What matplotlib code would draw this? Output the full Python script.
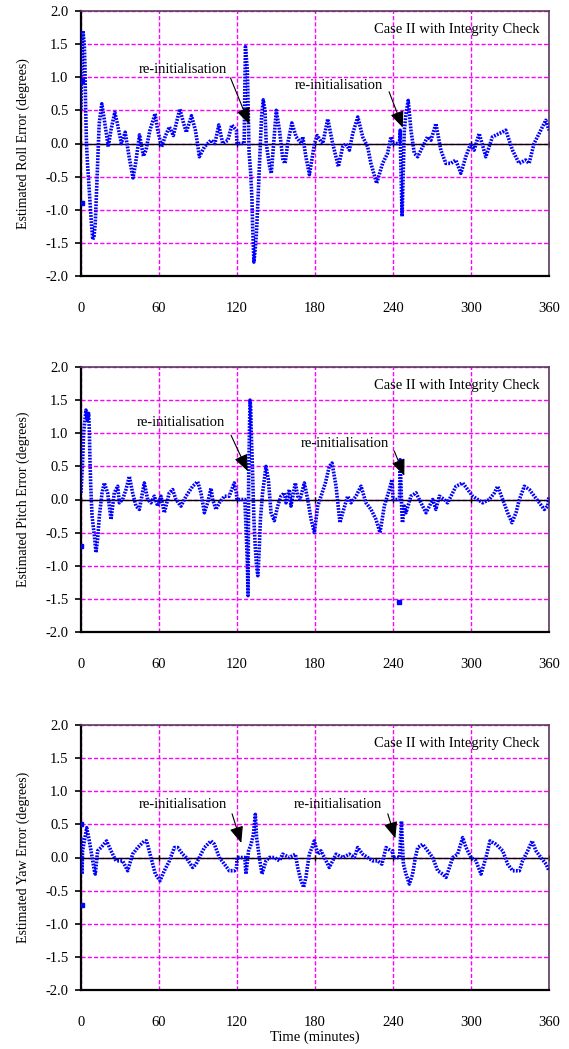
import matplotlib
matplotlib.use("Agg")
import matplotlib.pyplot as plt
from matplotlib.ticker import FixedLocator, FormatStrFormatter

plt.rcParams["font.family"] = ["Liberation Serif", "DejaVu Serif"]

# 时间轴刻度 (分钟) 与纵轴刻度 (度)
X_TICKS = [0, 60, 120, 180, 240, 300, 360]
Y_TICKS = [-2.0, -1.5, -1.0, -0.5, 0.0, 0.5, 1.0, 1.5, 2.0]

# 横滚误差
roll_t = [0, 0.5, 1.5, 2.5, 3.0, 3.5, 4.2, 5.0, 6.0, 7.0, 8.0, 9.0, 10.0, 11.0, 12.0,
          13.0, 14.0, 16.0, 18.0, 21.0, 23.0, 26.0, 28.0, 31.0, 34.0, 37.0, 40.0, 42.0,
          45.0, 48.0, 50.0, 53.0, 57.0, 59.0, 62.0, 65.0, 68.0, 71.0, 76.0, 79.0, 81.0,
          85.0, 88.0, 90.0, 91.0, 95.0, 100.0, 103.0, 106.0, 109.0, 113.0, 116.0, 119.5,
          120.0, 125.5, 126.0, 126.5, 127.5, 128.0, 128.5, 129.3, 130.5, 131.5, 132.0,
          132.5, 133.0, 134.0, 135.0, 136.4, 137.0, 138.9, 140.2, 141.5, 142.5, 145.0,
          146.4, 150.2, 152.7, 155.3, 157.0, 159.0, 162.2, 165.5, 169.4, 170.6, 173.0,
          175.7, 179.6, 181.7, 184.0, 186.0, 189.8, 193.6, 198.0, 201.3, 203.9, 206.5,
          209.0, 212.9, 216.7, 220.5, 223.0, 227.4, 232.0, 235.8, 238.4, 239.5, 240.0,
          245.0, 245.5, 246.0, 246.5, 247.0, 247.8, 248.7, 250.0, 251.7, 253.8, 256.4,
          259.0, 262.8, 266.6, 269.2, 273.0, 276.8, 280.6, 284.5, 288.3, 292.2, 296.0,
          299.8, 302.4, 306.3, 311.4, 316.5, 321.6, 326.8, 331.9, 337.0, 342.1, 344.7,
          348.5, 352.4, 357.5, 360.0]
roll_v = [0.5, 1.2, 1.7, 1.5, 1.2, 0.6, 0.0, -0.3, -0.6, -0.9, -1.2, -1.45, -1.4, -1.2, -0.7,
          -0.2, 0.3, 0.6, 0.35, -0.05, 0.2, 0.47, 0.3, 0.0, 0.17, -0.2, -0.52, -0.3,
          0.13, -0.19, -0.1, 0.2, 0.45, 0.2, -0.05, 0.12, 0.25, 0.12, 0.52, 0.3, 0.17,
          0.42, 0.2, -0.05, -0.2, -0.05, 0.05, 0.0, 0.28, 0.0, 0.05, 0.28, 0.2,
          0.0, 0.0, 0.8, 1.46, 1.23, 1.1, 0.6, -0.14, -0.44, -0.84, -1.24,
          -1.54, -1.79, -1.6, -1.34, -0.74, -0.44, 0.41, 0.66, 0.5, 0.0, -0.34,
          -0.45, 0.5, 0.2, -0.25, -0.3, 0.0, 0.31, 0.1, 0.0, 0.1, -0.2,
          -0.47, 0.0, 0.12, 0.05, 0.0, 0.37, 0.0, -0.35, -0.05, 0.0, -0.1,
          0.15, 0.4, 0.1, -0.05, -0.3, -0.6, -0.3, -0.15, 0.1, 0.05, 0.0,
          0.0, 0.2, -0.3, -0.7, -1.1, -0.5, 0.2, 0.45, 0.65, 0.2, -0.15,
          -0.2, -0.05, 0.1, 0.05, 0.3, -0.1, -0.3, -0.3, -0.25, -0.45, -0.2,
          0.0, -0.1, 0.15, -0.2, 0.1, 0.15, 0.2, -0.1, -0.3, -0.25, -0.3,
          0.0, 0.15, 0.35, 0.2]
roll_extra_t = [0.6, 0.8]
roll_extra_v = [-0.9, 0.95]

# 俯仰误差
pitch_t = [0, 1.3, 2.0, 3.8, 5.0, 5.9, 6.4, 6.9, 7.5, 8.5, 10.3, 11.5, 12.8, 14.1, 16.2,
           17.9, 20.5, 23.1, 25.6, 28.2, 29.5, 32.0, 34.6, 37.2, 39.7, 42.3, 44.9, 48.7,
           51.3, 53.8, 56.4, 59.0, 61.5, 64.1, 67.9, 70.5, 73.0, 76.9, 80.8, 85.9, 89.7,
           92.3, 94.9, 97.4, 100.0, 101.3, 103.8, 106.4, 110.3, 114.0, 117.9, 119.5,
           120.0, 126.0, 127.0, 128.0, 128.5, 129.0, 129.5, 130.0, 130.5, 131.0, 132.0,
           133.0, 134.0, 135.0, 136.0, 137.0, 138.0, 139.7, 142.3, 144.1, 146.2, 148.7,
           151.3, 153.8, 156.4, 157.7, 160.3, 161.5, 164.9, 166.7, 168.5, 171.8, 174.4,
           177.0, 179.5, 182.1, 184.6, 188.0, 191.0, 193.1, 196.2, 199.2, 201.3, 205.1,
           207.7, 211.5, 215.4, 219.2, 223.1, 226.9, 230.0, 233.3, 237.2, 239.2, 240.0,
           245.0, 245.5, 246.2, 246.8, 247.3, 248.7, 250.0, 253.8, 257.7, 261.5, 265.4,
           268.0, 270.5, 273.0, 275.6, 279.5, 282.0, 284.6, 288.5, 293.6, 297.4, 301.3,
           305.1, 309.0, 314.1, 318.0, 320.5, 324.4, 328.2, 331.5, 334.6, 337.2, 341.0,
           344.9, 348.7, 352.6, 356.4, 359.0, 360.0]
pitch_v = [0.1, 0.6, 1.0, 1.35, 1.2, 1.3, 1.05, 0.6, 0.2, -0.25, -0.55, -0.8, -0.6, -0.25, 0.1,
           0.25, 0.1, -0.3, 0.1, 0.2, -0.05, 0.0, 0.15, 0.35, 0.1, -0.1, -0.15, 0.25,
           0.0, -0.05, 0.05, -0.1, 0.05, -0.2, 0.1, 0.15, 0.0, -0.1, 0.05, 0.2, 0.27,
           0.1, -0.2, -0.05, 0.17, 0.0, -0.15, -0.05, 0.05, 0.05, 0.25, 0.1,
           0.0, 0.0, -0.45, -1.0, -1.45, 0.4, 1.0, 1.5, 1.4, 1.0, 0.4,
           -0.3, -0.7, -1.0, -1.15, -0.8, -0.3, 0.1, 0.5, 0.3, -0.2, -0.32,
           -0.1, 0.05, 0.1, -0.05, 0.15, -0.1, 0.25, 0.05, 0.0, 0.25, 0.0,
           -0.3, -0.5, -0.1, 0.05, 0.25, 0.5, 0.55, 0.2, -0.35, -0.2, 0.05,
           -0.05, 0.05, 0.2, -0.05, -0.15, -0.3, -0.5, -0.1, 0.15, 0.3, 0.0,
           0.0, 0.6, 0.2, -0.2, -0.35, -0.1, -0.2, 0.05, 0.1, -0.05, -0.2,
           -0.1, 0.0, -0.15, 0.05, 0.0, -0.05, 0.05, 0.2, 0.25, 0.15, 0.05,
           0.0, -0.05, 0.0, 0.1, 0.2, 0.0, -0.2, -0.35, -0.2, 0.0, 0.2,
           0.15, 0.05, -0.05, -0.15, -0.1, 0.05]
pitch_extra_t = [0.2, 244.6]
pitch_extra_v = [-0.7, -1.55]

# 偏航误差
yaw_t = [0, 0.8, 1.2, 2.6, 4.4, 6.4, 7.7, 10.3, 11.0, 12.8, 15.4, 19.7, 23.1, 26.9, 32.0,
         35.9, 39.7, 43.6, 48.7, 50.5, 53.8, 57.2, 60.8, 64.1, 68.0, 71.8, 74.4, 78.2,
         80.8, 85.9, 88.5, 91.0, 94.9, 100.0, 102.6, 106.4, 110.3, 114.1, 118.0, 119.7,
         120.0, 126.0, 126.9, 128.9, 130.8, 132.6, 134.1, 135.1, 137.2, 139.2, 142.3,
         144.9, 148.7, 152.6, 155.1, 160.3, 164.9, 166.7, 169.2, 171.3, 173.0, 175.6,
         177.7, 179.5, 182.1, 184.6, 187.2, 191.0, 193.6, 196.2, 201.3, 206.4, 210.3,
         212.8, 216.7, 220.5, 224.4, 228.2, 231.5, 234.6, 238.5, 239.7, 240.0, 245.0,
         246.5, 247.0, 247.5, 248.0, 250.0, 252.6, 255.1, 257.2, 259.0, 262.8, 266.7,
         270.5, 274.4, 278.2, 280.8, 283.4, 286.0, 289.7, 293.6, 296.2, 300.0, 303.8,
         307.7, 311.5, 314.6, 319.2, 324.4, 328.2, 332.1, 337.2, 339.7, 343.6, 347.0,
         350.0, 353.8, 357.7, 360.0]
yaw_v = [0.3, -0.25, 0.1, 0.25, 0.45, 0.25, 0.1, -0.2, -0.25, 0.1, 0.15, 0.25, 0.1, -0.05, -0.05,
         -0.2, 0.05, 0.15, 0.25, 0.25, 0.0, -0.25, -0.35, -0.2, -0.05, 0.15, 0.15, 0.05,
         0.0, -0.15, -0.1, 0.0, 0.15, 0.25, 0.2, 0.0, -0.1, -0.2, -0.2, -0.15,
         0.0, 0.0, -0.25, 0.1, 0.2, 0.35, 0.65, 0.3, 0.0, -0.25, -0.05,
         0.0, 0.0, -0.05, 0.05, 0.0, 0.05, -0.15, -0.35, -0.45, -0.3, 0.05,
         0.15, 0.25, 0.05, 0.1, 0.0, -0.15, -0.05, 0.05, 0.0, 0.05, 0.0,
         0.15, 0.05, 0.0, -0.05, -0.05, -0.1, 0.15, 0.1, 0.1, 0.0, 0.0,
         0.55, 0.3, 0.1, -0.1, -0.25, -0.4, -0.25, 0.0, 0.15, 0.2, 0.1,
         0.0, -0.2, -0.25, -0.3, -0.15, 0.0, 0.05, 0.3, 0.15, 0.0, -0.05,
         -0.25, 0.0, 0.25, 0.2, 0.1, -0.1, -0.2, -0.2, -0.05, 0.1, 0.25,
         0.1, 0.0, -0.1, -0.2]
yaw_extra_t = [0.0, 0.4]
yaw_extra_v = [0.5, -0.72]

# 每个子图: 纵轴标题, 数据, 两处"re-initialisation"标注 (文字位置, 箭头起点, 箭头终点)
PANELS = [
    ("Estimated Roll Error (degrees)", roll_t, roll_v, roll_extra_t, roll_extra_v,
     [((78, 1.12), (115, 0.99), (129.5, 0.29)),
      ((198.5, 0.88), (237, 0.78), (247.5, 0.24))]),
    ("Estimated Pitch Error (degrees)", pitch_t, pitch_v, pitch_extra_t, pitch_extra_v,
     [((77, 1.16), (115.4, 0.97), (128.2, 0.43)),
      ((202.6, 0.84), (241, 0.73), (248.7, 0.36))]),
    ("Estimated Yaw Error (degrees)", yaw_t, yaw_v, yaw_extra_t, yaw_extra_v,
     [((78.2, 0.80), (116.2, 0.66), (123.3, 0.22)),
      ((197.4, 0.80), (236, 0.66), (241.8, 0.29))]),
]

FIG_W, FIG_H = 569, 1049
AX_LEFT, AX_RIGHT = 81, 549
AX_TOPS = [11, 367, 725]
AX_HEIGHT = 265

fig = plt.figure(figsize=(FIG_W / 100, FIG_H / 100), dpi=100)

for i, (ylabel, ts, vs, ets, evs, notes) in enumerate(PANELS):
    top = AX_TOPS[i]
    ax = fig.add_axes([AX_LEFT / FIG_W, 1 - (top + AX_HEIGHT) / FIG_H,
                       (AX_RIGHT - AX_LEFT) / FIG_W, AX_HEIGHT / FIG_H])
    ax.set_xlim(0, 360)
    ax.set_ylim(-2.0, 2.0)

    # 网格 (品红虚线)
    ax.xaxis.set_major_locator(FixedLocator(X_TICKS))
    ax.yaxis.set_major_locator(FixedLocator(Y_TICKS))
    ax.yaxis.set_major_formatter(FormatStrFormatter("%.1f"))
    ax.grid(True, color="#ff00ff", linestyle=(0, (3, 1.5)), linewidth=1.0)
    ax.set_axisbelow(True)

    # 零线 + 刻度
    ax.axhline(0, color="black", linewidth=1.0, zorder=2)
    ax.plot(X_TICKS, [0] * len(X_TICKS), linestyle="none", marker="|",
            markersize=5, color="black", zorder=2)

    # 误差点
    ax.plot(ts, vs, color="#0000ff", linewidth=2.6, linestyle=(0, (0.5, 0.35)),
            dash_capstyle="butt", zorder=3)
    ax.plot(ets, evs, linestyle="none", marker="s", markersize=2.2,
            color="#0000ff", zorder=3)

    for (txy, a0, a1) in notes:
        ax.text(txy[0], txy[1], "re-initialisation", fontsize=10.5,
                ha="center", va="center", zorder=5)
        ax.annotate("", xy=a1, xytext=a0,
                    arrowprops=dict(arrowstyle="-|>,head_length=1.0,head_width=0.42",
                                    color="black", lw=0.8, shrinkA=0, shrinkB=0),
                    zorder=5)

    ax.text(0.979, 0.932, "Case II with Integrity Check", transform=ax.transAxes,
            fontsize=10.5, ha="right", va="center")

    for side in ("top", "right"):
        ax.spines[side].set_color("#5b3b5b")
        ax.spines[side].set_linewidth(1.2)
    for side in ("left", "bottom"):
        ax.spines[side].set_color("black")
        ax.spines[side].set_linewidth(1.6)

    ax.tick_params(axis="y", direction="out", length=4, width=1.2, pad=5,
                   labelsize=10.5)
    ax.tick_params(axis="x", length=0, pad=18.5, labelsize=10.5)
    ax.set_xticklabels([str(x) for x in X_TICKS])

    ax.set_ylabel(ylabel, fontsize=10)
    ax.yaxis.set_label_coords(-0.110, 0.5)

    if i == 2:
        ax.set_xlabel("Time (minutes)", fontsize=10.5, labelpad=1.5)

fig.savefig("out.png", dpi=100)
